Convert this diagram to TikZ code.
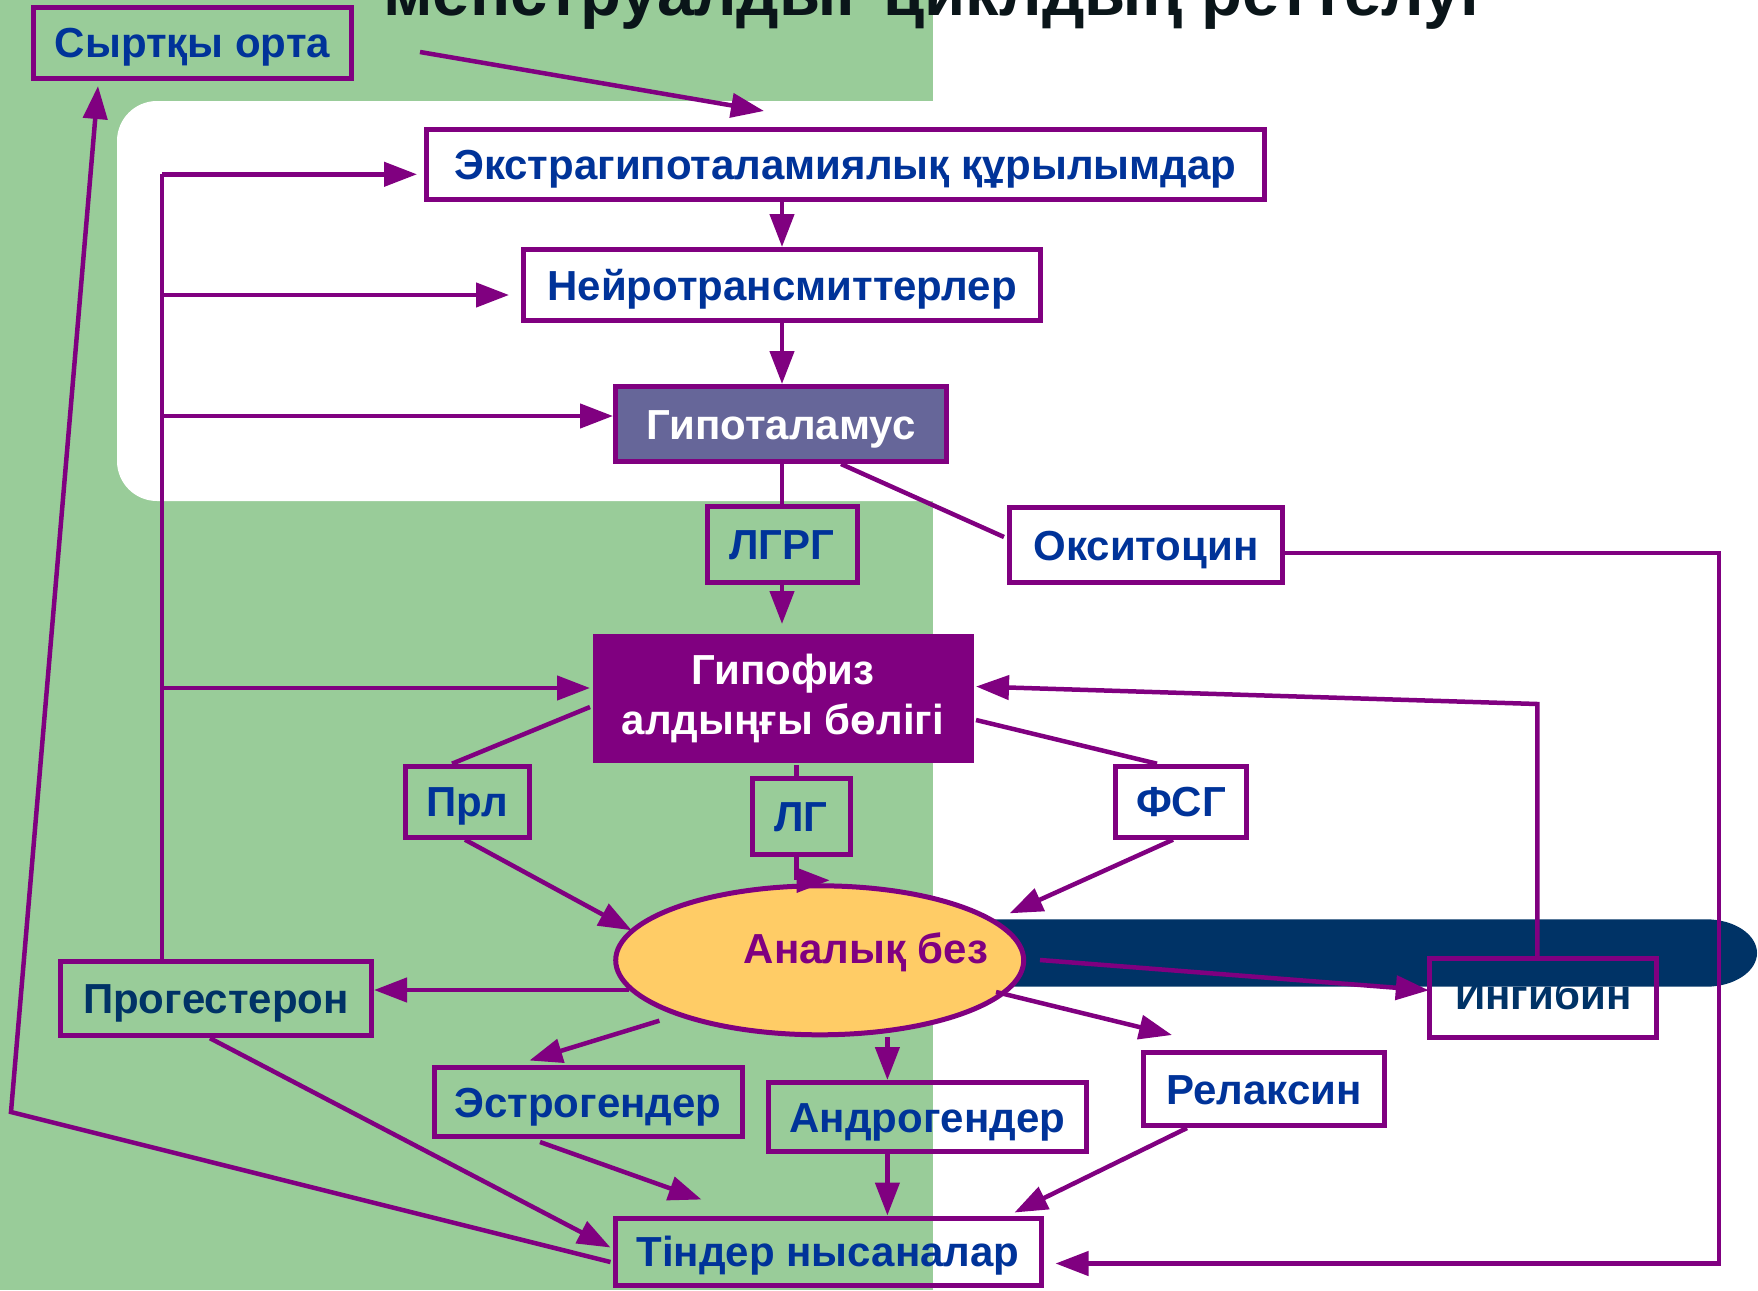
\documentclass[tikz,border=0pt]{standalone}
\usepackage{fontspec}
\setmainfont{Liberation Sans}
\usetikzlibrary{arrows.meta,calc,shapes.geometric}
\definecolor{bggreen}{HTML}{99CC99}
\definecolor{pur}{HTML}{800080}
\definecolor{tblue}{HTML}{003399}
\definecolor{tnavy}{HTML}{003366}
\definecolor{hypo}{HTML}{666699}
\definecolor{ovary}{HTML}{FFCC66}
\definecolor{barc}{HTML}{003366}
\definecolor{ttl}{HTML}{0A1519}
\begin{document}
\begin{tikzpicture}[x=1pt,y=-1pt,
  boxbase/.style={rectangle, draw=pur, line width=5pt, inner sep=0pt, font=\fontsize{42}{50}\selectfont\bfseries, text=tblue},
  box/.style={boxbase, text height=30pt, text depth=0pt},
  conn/.style={draw=pur, line width=4.5pt},
  arr/.style={conn, -{Triangle[length=33pt,width=24pt]}},
]
\useasboundingbox (0,0) rectangle (1758,1290);
\fill[white] (0,0) rectangle (1758,1290);
\fill[bggreen] (0,0) rectangle (933,1290);
\fill[white, rounded corners=40pt] (117,101) rectangle (1000,501);

\node[anchor=base west, inner sep=0pt, font=\fontsize{67}{67}\selectfont\bfseries, text=ttl] (title) at (383,16) {менструалдыг циклдың реттелуг};

\node[box, fill=bggreen, minimum width=318pt, minimum height=71pt] (syrt) at (192.5,43) {Сыртқы орта};
\node[box, fill=white, minimum width=838pt, minimum height=70pt] (ekstra) at (845.5,164.5) {Экстрагипоталамиялық құрылымдар};
\node[box, fill=white, minimum width=517pt, minimum height=71pt] (neuro) at (782,285) {Нейротрансмиттерлер};
\node[box, fill=hypo, text=white, minimum width=331pt, minimum height=75pt] (hypoth) at (781,424) {Гипоталамус};
\node[box, fill=bggreen, minimum width=150pt, minimum height=76pt] (lgrg) at (782,544.5) {ЛГРГ};
\node[box, fill=white, minimum width=273pt, minimum height=75pt] (oxy) at (1146,545) {Окситоцин};
\node[boxbase, draw=none, fill=pur, text=white, minimum width=381pt, minimum height=129pt, align=center] (pit) at (783,698) {Гипофиз\\алдыңғы бөлігі};
\node[box, fill=bggreen, minimum width=124pt, minimum height=71pt] (prl) at (467,801.7) {Прл};
\node[box, fill=bggreen, minimum width=98pt, minimum height=76pt] (lg) at (801,816.7) {ЛГ};
\node[box, fill=white, minimum width=131pt, minimum height=71pt] (fsg) at (1181,801.7) {ФСГ};
\node[box, fill=bggreen, text=tnavy, minimum width=311pt, minimum height=74pt] (prog) at (216,998.7) {Прогестерон};
\node[box, fill=bggreen, minimum width=308pt, minimum height=69pt] (estro) at (588,1102) {Эстрогендер};
\node[box, minimum width=318pt, minimum height=69pt] (andr) at (927.4,1117) {Андрогендер};
\node[box, minimum width=426pt, minimum height=67pt] (tind) at (828,1251.5) {Тіндер нысаналар};
\node[box, fill=white, minimum width=241pt, minimum height=73pt] (relax) at (1264,1089) {Релаксин};
\node[box, draw=none, fill=white, text=tnavy, text height=21.4pt, minimum width=222pt, minimum height=74pt] (ingib) at (1543.3,998.3) {Ингибин};

\fill[barc] (990,919.3) -- (1706,919.3) arc[start angle=90, end angle=-90, x radius=51pt, y radius=33.7pt] -- (990,986.7) -- cycle;
\draw[pur, line width=5pt] (ingib.north west) rectangle (ingib.south east);

\node[ellipse, draw=pur, line width=5pt, fill=ovary, minimum width=408pt, minimum height=149pt, inner sep=0pt] (ov) at (819.7,960.3) {};
\node[anchor=base, inner sep=0pt, font=\fontsize{42}{50}\selectfont\bfseries, text=pur] (ovtext) at (866,963) {Аналық без};

% left bus
\coordinate (b1) at (162,174.3);
\coordinate (b2) at (162,295);
\coordinate (b3) at (162,416);
\coordinate (b4) at (162,688);
\draw[conn] (b1) -- (b1 |- prog.north);
\draw[arr, shorten >=7pt] (b1) -- (b1 -| ekstra.west);
\draw[arr, shorten >=12pt] (b2) -- (b2 -| neuro.west);
\draw[arr] (b3) -- (b3 -| hypoth.west);
\draw[arr] (b4) -- (b4 -| pit.west);

% central column
\coordinate (cx) at (782,0);
\draw[arr] (cx |- ekstra.south) -- (cx |- neuro.north);
\draw[arr] (cx |- neuro.south) -- (cx |- hypoth.north);
\draw[conn] (cx |- hypoth.south) -- (cx |- lgrg.north);
\draw[arr, shorten >=7pt] (cx |- lgrg.south) -- (cx |- pit.north);

% hypothalamus -> oxytocin -> targets
\draw[conn] ($(hypoth.south west)+(228,0)$) -- ($(oxy.west)+(-3,-8)$);
\coordinate (rx) at (1719,0);
\coordinate (o1) at ($(oxy.east)+(0,8)$);
\coordinate (t1) at ($(tind.east)+(0,12)$);
\draw[arr, shorten >=12pt] (o1) -- (o1 -| rx) -- (rx |- t1) -- (t1);

% inhibin -> pituitary
\coordinate (i1) at ($(ingib.north)+(-6,0)$);
\coordinate (i2) at (1537.3,704);
\draw[arr] (i1) -- (i2) -- ($(pit.east)+(0,-11.5)$);

% pituitary outputs
\draw[conn] ($(pit.west)+(0,9)$) -- ($(prl.north)+(-15,0)$);
\coordinate (lx) at (796.7,0);
\draw[conn] (lx |- pit.south) -- (lx |- lg.north);
\draw[conn] ($(pit.east)+(0,22)$) -- ($(fsg.north)+(-24,0)$);

% hormones -> ovary
\draw[arr] ($(prl.south)+(-2,0)$) -- ($(ov.center)+(-188,-30)$);
\coordinate (lgc) at ($(ov.north)+(-23,-3)$);
\draw[conn] (lx |- lg.south) -- (lgc);
\draw[arr] (lgc) -- ($(lgc)+(33,0)$);
\draw[arr] ($(fsg.south)+(-8,0)$) -- ($(ov.center)+(190,-47)$);

% ovary outputs
\coordinate (p1) at ($(ov.center)+(-190.4,29.7)$);
\draw[arr] (p1) -- (p1 -| prog.east);
\draw[arr] ($(ov.center)+(-160.3,60.4)$) -- ($(estro.north)+(-58.6,-4.5)$);
\coordinate (ax) at (887.4,0);
\draw[arr] (ax |- ov.south) -- (ax |- andr.north);
\draw[arr] ($(ov.center)+(176.3,31.7)$) -- ($(relax.north west)+(31,-15)$);
\draw[arr] ($(ov.center)+(220.3,-0.3)$) -- ($(ingib.west)+(-1,-8)$);

% hormones -> targets
\draw[arr] ($(prog.south)+(-6,0)$) -- ($(tind.west)+(-2,-4)$);
\draw[arr] ($(estro.south)+(-48,3)$) -- ($(tind.north west)+(89,-16)$);
\draw[arr] (ax |- andr.south) -- (ax |- tind.north);
\draw[arr] ($(relax.south)+(-77,0)$) -- ($(tind.north east)+(-29,-3)$);

% targets -> environment -> extrahypothalamic
\coordinate (lc) at (11,1112);
\draw[arr] ($(tind.west)+(-2,10.5)$) -- (lc) -- ($(syrt.south west)+(67,5)$);
\coordinate (s1) at (420,52);
\draw[arr] (s1) -- ($(ekstra.north west)+(340,-16)$);
\end{tikzpicture}
\end{document}
